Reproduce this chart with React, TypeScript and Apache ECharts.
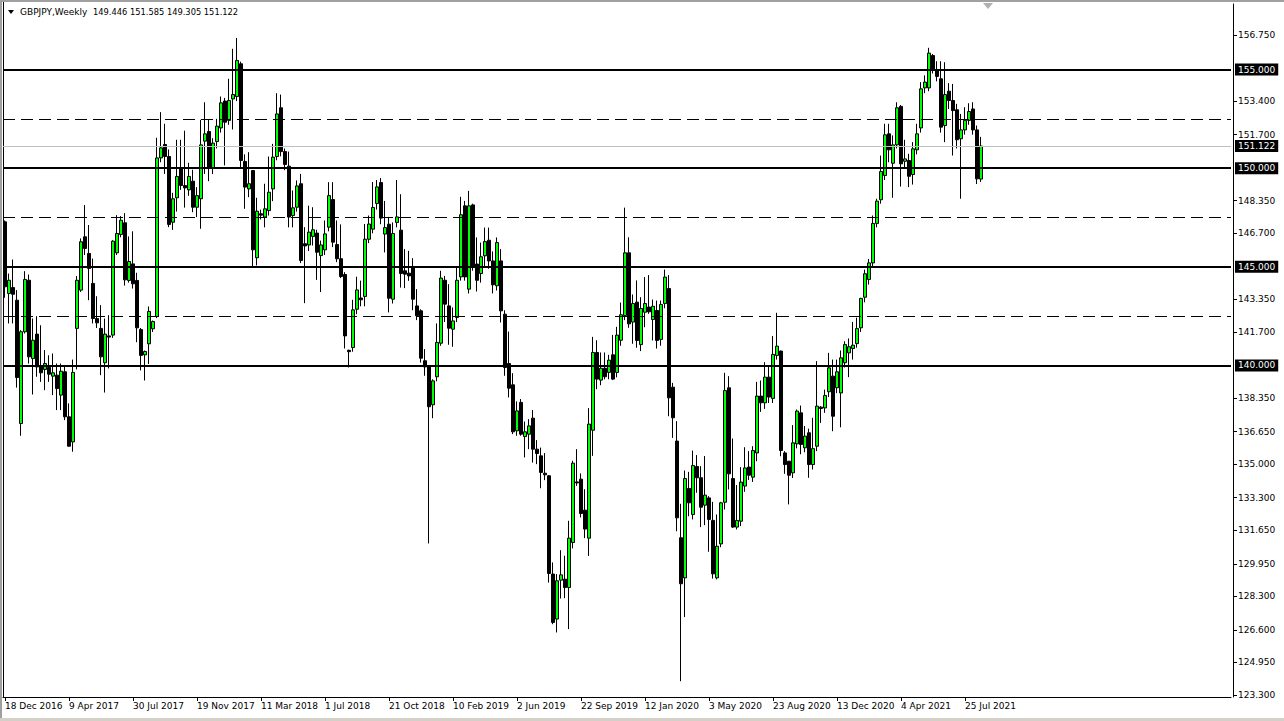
import React, { useEffect, useRef } from "react";
import * as echarts from "echarts";

// ---- data (weekly GBPJPY, first bar = week of 18 Dec 2016) ----
const startYear = 2016;
const startMonth = 11; // December (0-based)
const startDay = 18;
const totalSlots = 307; // bars + empty chart-shift space on the right

const opens = [
  147.28, 143.65, 143.95, 143.31, 137.06, 141.71, 144.32, 140.35, 141.59, 139.97,
  139.8, 139.9, 139.46, 139.51, 138.5, 139.68, 137.4, 136.13, 141.88, 143.82,
  146.52, 145.68, 144.16, 142.38, 141.88, 140.14, 141.5, 141.54, 145.71, 146.64,
  147.23, 144.31, 145.15, 144.31, 141.82, 140.54, 141.1, 141.86, 142.48, 150.52,
  151.2, 150.59, 147.26, 148.5, 149.97, 149.12, 148.9, 149.34, 148.02, 148.45,
  151.37, 151.86, 150.02, 151.35, 152.04, 153.4, 152.42, 153.51, 153.63, 155.29,
  150.34, 148.95, 149.88, 145.46, 147.69, 147.52, 147.85, 148.95, 150.59, 153.06,
  150.84, 150.1, 147.6, 148.02, 149.21, 146.17, 146.11, 146.54, 146.71, 145.57,
  145.86, 147.01, 148.41, 146.13, 145.41, 144.61, 140.77, 140.91, 142.85, 143.42,
  143.5, 146.4, 146.91, 148.21, 149.27, 146.66, 147.16, 143.36, 147.25, 146.86,
  144.8, 144.68, 145.0, 143.02, 142.77, 140.24, 139.98, 138.01, 139.43, 141.13,
  144.32, 143.02, 141.84, 142.43, 144.49, 148.09, 143.87, 148.14, 145.14, 144.66,
  145.56, 146.35, 145.3, 144.04, 145.3, 142.6, 140.1, 139.02, 136.69, 138.13,
  136.4, 136.52, 137.33, 135.76, 135.42, 134.54, 134.41, 129.43, 127.15, 129.12,
  129.17, 128.75, 131.03, 134.1, 134.24, 132.67, 131.25, 136.72, 140.66, 139.26,
  139.86, 139.65, 140.54, 139.65, 141.28, 142.53, 145.71, 142.2, 143.21, 141.06,
  142.7, 142.96, 142.33, 142.79, 141.32, 143.14, 143.9, 138.9, 136.17, 131.27,
  129.24, 133.77, 132.45, 134.88, 134.31, 132.92, 133.29, 132.15, 129.24, 130.96,
  133.07, 138.87, 134.27, 131.81, 132.11, 133.89, 134.85, 134.34, 135.57, 138.45,
  138.11, 139.41, 138.33, 140.51, 140.73, 135.57, 135.15, 134.56, 136.03, 137.6,
  135.83, 136.59, 134.98, 135.91, 137.89, 137.85, 138.67, 139.46, 138.87, 138.61,
  140.14, 140.64, 140.86, 141.11, 141.91, 143.46, 144.36, 145.2, 147.2, 148.4,
  149.63, 151.74, 150.25, 151.18, 153.13, 150.35, 150.39, 149.68, 150.93, 152.04,
  154.07, 154.07, 155.71, 154.98, 154.53, 152.16, 153.9, 153.43, 152.96, 151.49,
  151.94, 152.42, 153.0, 151.94, 149.446,
];

const highs = [
  147.35, 144.66, 145.37, 143.82, 141.79, 144.78, 144.61, 142.38, 142.5, 142.04,
  140.78, 140.52, 140.61, 140.1, 140.1, 139.93, 138.08, 140.3, 144.53, 146.44,
  148.13, 147.12, 145.42, 143.51, 143.06, 142.38, 142.55, 146.35, 147.62, 147.57,
  147.72, 146.54, 146.8, 144.7, 141.9, 140.76, 142.99, 142.28, 151.54, 152.84,
  152.25, 150.95, 148.75, 151.44, 151.44, 151.9, 150.27, 149.92, 149.04, 152.45,
  153.34, 152.45, 151.52, 152.5, 153.63, 153.56, 154.53, 156.05, 156.6, 155.4,
  150.7, 150.81, 149.9, 148.5, 147.9, 149.21, 150.59, 151.23, 153.8, 153.73,
  151.0, 150.84, 148.87, 149.38, 149.71, 147.01, 148.1, 148.02, 146.88, 146.33,
  147.35, 149.29, 149.29, 147.35, 147.15, 144.73, 140.8, 143.33, 144.5, 144.3,
  147.17, 147.6, 149.3, 149.4, 149.5, 148.34, 147.53, 147.25, 149.4, 148.68,
  145.9, 145.81, 145.44, 143.87, 142.85, 140.83, 140.0, 139.3, 142.13, 144.8,
  144.54, 144.12, 142.94, 144.97, 148.55, 148.34, 148.85, 148.2, 146.49, 146.23,
  146.99, 146.99, 145.78, 146.49, 145.9, 142.8, 141.72, 139.61, 138.18, 138.3,
  137.16, 137.28, 137.74, 136.22, 135.84, 135.56, 134.45, 130.02, 129.43, 130.64,
  130.36, 132.13, 135.17, 135.76, 134.53, 133.73, 137.84, 141.45, 141.28, 140.66,
  140.66, 140.54, 141.55, 141.96, 143.19, 148.0, 146.5, 143.6, 144.31, 143.46,
  144.48, 144.58, 143.34, 143.29, 143.29, 144.86, 144.58, 139.12, 137.18, 132.99,
  134.68, 134.61, 135.69, 135.46, 134.9, 135.41, 133.38, 133.09, 132.45, 133.09,
  139.63, 139.46, 136.3, 133.94, 134.85, 135.86, 135.66, 135.91, 139.17, 139.24,
  140.17, 139.97, 141.49, 142.67, 140.76, 135.66, 135.15, 136.98, 137.77, 137.97,
  136.93, 136.8, 137.35, 140.22, 137.94, 138.78, 140.64, 140.3, 140.3, 140.76,
  141.23, 141.37, 142.21, 142.42, 143.43, 144.86, 145.4, 147.6, 148.45, 150.64,
  152.25, 152.25, 151.66, 153.34, 153.2, 151.44, 150.73, 151.32, 152.25, 154.36,
  154.7, 156.1, 155.79, 155.42, 155.42, 155.37, 154.31, 154.27, 153.26, 152.75,
  153.09, 153.29, 153.34, 152.16, 151.585,
];

const lows = [
  143.43, 142.13, 142.13, 138.88, 136.44, 141.62, 140.1, 138.53, 139.43, 139.17,
  138.75, 139.17, 138.5, 137.74, 137.74, 137.23, 135.9, 135.63, 139.8, 143.73,
  145.6, 143.31, 142.13, 141.9, 139.51, 138.63, 139.85, 141.4, 145.6, 146.5,
  144.05, 144.2, 143.9, 141.18, 139.75, 139.24, 140.08, 141.7, 142.4, 150.3,
  149.71, 147.01, 146.87, 147.8, 148.9, 148.0, 148.6, 147.77, 147.52, 146.93,
  149.71, 149.34, 149.7, 151.0, 151.8, 150.14, 152.2, 151.96, 153.4, 150.0,
  147.94, 148.53, 144.95, 145.07, 147.4, 147.0, 147.6, 148.33, 150.4, 150.6,
  149.9, 147.0, 147.0, 147.8, 145.19, 143.16, 145.8, 146.08, 144.34, 143.72,
  145.6, 146.8, 146.0, 145.24, 144.43, 140.86, 139.9, 140.7, 142.6, 143.0,
  143.0, 146.2, 146.7, 147.9, 147.16, 145.73, 142.69, 143.14, 147.0, 143.95,
  143.92, 144.29, 142.8, 142.3, 140.15, 139.48, 130.98, 137.33, 139.2, 141.0,
  142.2, 141.05, 140.95, 142.2, 144.3, 144.3, 143.65, 144.8, 143.75, 144.2,
  145.0, 144.9, 143.65, 143.8, 142.18, 139.48, 138.38, 136.52, 136.44, 136.44,
  135.34, 135.76, 135.08, 135.0, 133.78, 134.19, 129.0, 126.89, 126.47, 128.19,
  128.21, 126.64, 130.73, 133.9, 132.3, 131.25, 130.35, 135.42, 138.8, 139.0,
  139.3, 139.3, 139.26, 139.4, 141.0, 142.3, 141.91, 141.1, 140.9, 140.73,
  141.94, 142.62, 141.27, 140.86, 141.0, 142.9, 137.43, 136.33, 131.6, 124.0,
  127.25, 132.36, 132.2, 133.55, 131.81, 131.91, 130.56, 129.2, 129.16, 130.79,
  132.7, 133.72, 131.77, 131.69, 131.86, 133.6, 134.2, 134.1, 135.15, 137.65,
  137.8, 138.1, 138.1, 140.3, 135.4, 134.51, 132.96, 134.3, 135.8, 135.5,
  135.6, 134.31, 134.73, 135.66, 137.09, 137.6, 138.4, 136.67, 138.6, 136.87,
  139.9, 139.41, 140.3, 140.9, 141.7, 143.2, 144.1, 145.0, 147.0, 148.2,
  149.4, 150.3, 148.5, 151.0, 149.07, 150.0, 149.04, 149.17, 150.7, 151.8,
  153.8, 153.9, 154.8, 154.4, 151.8, 151.32, 153.0, 150.64, 151.0, 148.45,
  151.7, 152.2, 151.7, 149.2, 149.305,
];

const closes = [
  143.99, 144.32, 143.61, 139.39, 141.71, 144.36, 140.44, 141.28, 139.93, 139.63,
  140.1, 139.56, 139.63, 138.83, 139.71, 137.4, 135.91, 139.65, 144.32, 146.27,
  145.93, 144.92, 142.38, 142.16, 140.44, 141.59, 141.44, 146.3, 146.69, 147.36,
  144.34, 145.27, 144.14, 141.91, 140.51, 140.71, 142.74, 142.23, 150.52, 151.03,
  150.59, 147.15, 148.45, 149.58, 149.12, 149.0, 149.58, 148.02, 148.61, 151.18,
  151.74, 150.02, 151.27, 152.13, 153.31, 152.33, 153.43, 153.73, 155.46, 150.39,
  149.04, 149.21, 145.86, 147.82, 147.62, 147.94, 148.78, 150.56, 152.75, 150.84,
  150.19, 147.52, 147.99, 149.1, 145.32, 146.06, 146.76, 146.88, 145.74, 146.11,
  146.67, 148.61, 146.25, 145.41, 144.51, 141.5, 140.7, 142.82, 143.83, 143.33,
  146.4, 147.17, 148.01, 149.05, 147.47, 146.99, 143.41, 146.69, 147.53, 144.66,
  144.63, 144.54, 143.36, 142.52, 140.37, 139.93, 137.91, 139.22, 141.17, 144.43,
  143.11, 141.89, 142.26, 144.32, 147.64, 144.49, 148.09, 145.0, 144.32, 145.51,
  146.28, 145.3, 144.09, 146.23, 142.77, 139.9, 138.85, 136.64, 137.7, 136.52,
  136.64, 136.94, 135.76, 135.54, 134.58, 134.46, 129.46, 126.98, 129.09, 129.39,
  128.75, 131.25, 135.05, 134.05, 132.5, 131.71, 137.03, 140.66, 139.31, 139.86,
  139.43, 140.27, 139.31, 141.54, 142.57, 145.71, 142.11, 143.14, 141.27, 142.89,
  143.14, 142.72, 143.0, 141.27, 143.09, 144.48, 138.36, 137.35, 132.28, 128.94,
  134.27, 133.04, 134.93, 134.31, 132.82, 133.43, 132.2, 129.44, 130.84, 133.04,
  138.73, 134.51, 131.81, 132.15, 134.09, 134.81, 134.44, 135.69, 138.45, 138.11,
  139.41, 138.4, 140.56, 140.98, 135.69, 134.98, 134.44, 136.08, 137.69, 136.0,
  136.42, 134.98, 135.79, 137.94, 137.82, 138.48, 139.88, 137.43, 139.68, 140.39,
  141.06, 140.95, 141.03, 141.87, 143.4, 144.65, 145.2, 147.2, 148.33, 149.83,
  151.69, 150.93, 151.18, 153.06, 150.22, 150.47, 149.59, 150.98, 151.74, 154.02,
  154.36, 155.83, 155.03, 154.65, 152.08, 153.73, 153.43, 152.92, 151.44, 151.94,
  152.42, 152.87, 151.94, 149.46, 151.122,
];

const yTickValues = [
  156.75, 153.4, 151.7, 148.35, 146.7, 143.35, 141.7, 138.35, 136.65, 135.0,
  133.3, 131.65, 129.95, 128.3, 126.6, 124.95, 123.3,
];
const solidLevels = [155, 150, 145, 140];
const dashedLevels = [152.5, 147.5, 142.5];
const currentPrice = 151.122;
const titleSymbol = "GBPJPY,Weekly";
const titleQuote = "149.446 151.585 149.305 151.122";
const dateLabelEvery = 16;

const MONTHS = ["Jan", "Feb", "Mar", "Apr", "May", "Jun", "Jul", "Aug", "Sep", "Oct", "Nov", "Dec"];

function weekLabel(i: number): string {
  const d = new Date(Date.UTC(startYear, startMonth, startDay) + i * 7 * 86400000);
  return `${d.getUTCDate()} ${MONTHS[d.getUTCMonth()]} ${d.getUTCFullYear()}`;
}

const FONT = "DejaVu Sans";

function priceLabel(v: number) {
  return {
    show: true,
    position: "end",
    distance: 4,
    formatter: v.toFixed(3),
    backgroundColor: "#000",
    color: "#fff",
    fontFamily: FONT,
    fontSize: 9,
    padding: [2, 3, 1, 3],
  };
}

export default function App() {
  const ref = useRef<HTMLDivElement>(null);

  useEffect(() => {
    if (!ref.current) return;
    const chart = echarts.init(ref.current, undefined, { renderer: "svg" });
    const n = closes.length;
    const categories = Array.from({ length: totalSlots }, (_, i) => weekLabel(i));
    const data = opens.map((o, i) => [o, closes[i], lows[i], highs[i]]);
    const showIdx = (i: number) => i % dateLabelEvery === 0 && i < n;

    const markData: any[] = [
      ...dashedLevels.map((v) => ({
        yAxis: v,
        lineStyle: { color: "#000", width: 1, type: [12, 6] },
        label: { show: false },
      })),
      {
        yAxis: currentPrice,
        lineStyle: { color: "#c0c0c0", width: 1, type: "solid" },
        label: priceLabel(currentPrice),
      },
      ...solidLevels.map((v) => ({
        yAxis: v,
        lineStyle: { color: "#000", width: 2, type: "solid" },
        label: priceLabel(v),
      })),
    ];

    chart.setOption({
      animation: false,
      backgroundColor: "#ffffff",
      grid: { left: 3, top: 4, right: 53, bottom: 24, containLabel: false },
      xAxis: {
        type: "category",
        data: categories,
        boundaryGap: true,
        axisLine: { show: true, lineStyle: { color: "#000", width: 1 } },
        axisTick: {
          show: true,
          alignWithLabel: true,
          interval: (i: number) => showIdx(i),
          length: 4,
          lineStyle: { color: "#000" },
        },
        axisLabel: {
          interval: (i: number) => showIdx(i),
          align: "left",
          margin: 4,
          color: "#000",
          fontFamily: FONT,
          fontSize: 9,
        },
        splitLine: { show: false },
      },
      yAxis: {
        type: "value",
        position: "right",
        offset: 2,
        min: 123.2,
        max: 158.32,
        scale: true,
        axisLine: { show: true, lineStyle: { color: "#000", width: 1 } },
        axisTick: {
          show: true,
          length: 4,
          customValues: yTickValues,
          lineStyle: { color: "#000" },
        },
        axisLabel: {
          customValues: yTickValues,
          margin: 5,
          color: "#000",
          fontFamily: FONT,
          fontSize: 9,
          formatter: (v: number) => v.toFixed(3),
        },
        splitLine: { show: false },
      },
      series: [
        {
          type: "candlestick",
          data,
          barWidth: 3,
          itemStyle: {
            color: "#00ff00",
            color0: "#000000",
            borderColor: "#000000",
            borderColor0: "#000000",
            borderWidth: 1,
          },
          markLine: {
            silent: true,
            symbol: ["none", "none"],
            animation: false,
            data: markData,
          },
        },
      ],
      graphic: [
        { type: "rect", shape: { x: 0, y: 0, width: 2, height: 721 }, style: { fill: "#a0a0a0" }, silent: true },
        { type: "rect", shape: { x: 0, y: 0, width: 1284, height: 2 }, style: { fill: "#a0a0a0" }, silent: true },
        { type: "rect", shape: { x: 0, y: 718, width: 1284, height: 3 }, style: { fill: "#d4d0c8" }, silent: true },
        { type: "line", shape: { x1: 3.5, y1: 2, x2: 3.5, y2: 697 }, style: { stroke: "#000", lineWidth: 1 }, silent: true },
        {
          type: "polygon",
          shape: { points: [[8, 10], [14, 10], [11, 14]] },
          style: { fill: "#000" },
          silent: true,
        },
        {
          type: "text",
          x: 20,
          y: 12,
          style: { text: titleSymbol, fill: "#000", font: `9px "${FONT}"`, verticalAlign: "middle" },
          silent: true,
        },
        {
          type: "text",
          x: 93,
          y: 12,
          style: { text: titleQuote, fill: "#000", font: `8.3px "${FONT}"`, verticalAlign: "middle" },
          silent: true,
        },
        {
          type: "polygon",
          shape: { points: [[983, 3], [993, 3], [988, 9]] },
          style: { fill: "#b0b0b0" },
          silent: true,
        },
      ],
    });

    return () => chart.dispose();
  }, []);

  return (
    <div
      ref={ref}
      style={{ position: "fixed", left: 0, top: 0, width: 1284, height: 721, background: "#fff" }}
    />
  );
}
